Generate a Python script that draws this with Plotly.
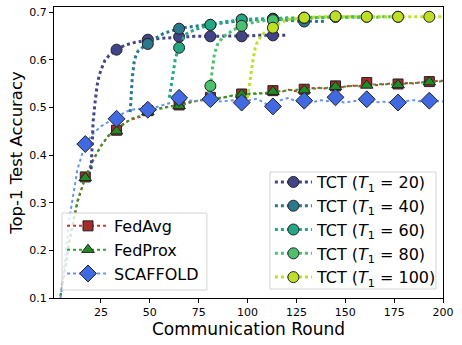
import plotly.graph_objects as go

# rounds for the baselines (markers every 16 rounds, starting at round 17)
base_rounds = list(range(1, 198, 4)) + [200]

fedavg = [0.03, 0.12, 0.22, 0.30, 0.354, 0.39, 0.42, 0.44, 0.452, 0.468,
          0.475, 0.48, 0.493, 0.495, 0.50, 0.503, 0.505, 0.51, 0.512, 0.515,
          0.521, 0.518, 0.522, 0.525, 0.528, 0.527, 0.53, 0.529, 0.535, 0.532,
          0.537, 0.534, 0.538, 0.54, 0.541, 0.539, 0.545, 0.542, 0.546, 0.544,
          0.552, 0.546, 0.548, 0.55, 0.549, 0.551, 0.55, 0.553, 0.554, 0.555, 0.556]
fedprox = [0.03, 0.12, 0.225, 0.305, 0.352, 0.388, 0.418, 0.442, 0.45, 0.466,
           0.477, 0.482, 0.49, 0.496, 0.498, 0.502, 0.503, 0.508, 0.513, 0.516,
           0.52, 0.52, 0.521, 0.526, 0.527, 0.529, 0.528, 0.531, 0.533, 0.534,
           0.535, 0.537, 0.536, 0.539, 0.54, 0.541, 0.543, 0.543, 0.545, 0.546,
           0.546, 0.547, 0.549, 0.548, 0.547, 0.55, 0.551, 0.552, 0.553, 0.554, 0.555]
scaffold = [0.0, 0.12, 0.27, 0.37, 0.423, 0.445, 0.46, 0.47, 0.476, 0.49,
            0.495, 0.497, 0.495, 0.50, 0.505, 0.51, 0.52, 0.515, 0.513, 0.515,
            0.517, 0.512, 0.513, 0.515, 0.51, 0.515, 0.518, 0.508, 0.502, 0.515,
            0.52, 0.512, 0.514, 0.51, 0.515, 0.513, 0.521, 0.51, 0.512, 0.515,
            0.517, 0.51, 0.512, 0.51, 0.51, 0.513, 0.515, 0.512, 0.514, 0.513, 0.512]

# TCT runs (second stage starts at T1)
tct20_rounds = [20, 21, 22, 23, 24, 25, 27, 29, 31, 33, 37, 41, 45, 49, 53, 57, 61,
                65, 69, 73, 77, 81, 85, 89, 93, 97, 101, 105, 109, 113, 117, 120]
tct20 = [0.37, 0.47, 0.51, 0.545, 0.565, 0.578, 0.598, 0.608, 0.615, 0.621,
         0.63, 0.635, 0.638, 0.642, 0.644, 0.645, 0.646, 0.648, 0.648, 0.649,
         0.649, 0.649, 0.65, 0.65, 0.65, 0.649, 0.65, 0.651, 0.651, 0.651, 0.651, 0.651]

tct40_rounds = [40, 41, 42, 43, 44, 45, 47, 49, 53, 57, 61, 65, 69, 73, 77, 81, 85,
                89, 93, 97, 101, 105, 109, 113, 117, 121, 125, 129, 133, 137, 140]
tct40 = [0.49, 0.56, 0.595, 0.61, 0.618, 0.622, 0.628, 0.633, 0.645, 0.655,
         0.66, 0.665, 0.668, 0.67, 0.672, 0.673, 0.676, 0.678, 0.68, 0.684,
         0.683, 0.684, 0.685, 0.686, 0.684, 0.683, 0.682, 0.68, 0.681, 0.68, 0.681]

tct60_rounds = [60, 61, 62, 63, 64, 65, 67, 69, 73, 77, 81, 85, 89, 93, 97, 101, 105,
                109, 113, 117, 121, 125, 129, 133, 137, 141, 145, 149, 153, 157, 160]
tct60 = [0.52, 0.55, 0.58, 0.60, 0.615, 0.625, 0.645, 0.655, 0.663, 0.668,
         0.673, 0.677, 0.68, 0.682, 0.684, 0.685, 0.686, 0.686, 0.685, 0.687,
         0.688, 0.687, 0.688, 0.689, 0.688, 0.689, 0.69, 0.689, 0.69, 0.689, 0.69]

tct80_rounds = [80, 81, 82, 83, 84, 85, 87, 89, 93, 97, 101, 105, 109, 113, 117, 121,
                125, 129, 133, 137, 141, 145, 149, 153, 157, 161, 165, 169, 173, 177, 180]
tct80 = [0.53, 0.545, 0.58, 0.61, 0.625, 0.635, 0.645, 0.652, 0.663, 0.671,
         0.676, 0.68, 0.682, 0.683, 0.685, 0.686, 0.687, 0.688, 0.688, 0.689,
         0.689, 0.69, 0.689, 0.69, 0.69, 0.69, 0.689, 0.69, 0.69, 0.69, 0.69]

tct100_rounds = [100, 101, 102, 103, 104, 105, 107, 109, 113, 117, 121, 125, 129, 133,
                 137, 141, 145, 149, 153, 157, 161, 165, 169, 173, 177, 181, 185, 189,
                 193, 197, 200]
tct100 = [0.52, 0.55, 0.585, 0.605, 0.625, 0.637, 0.65, 0.658, 0.667, 0.678,
          0.684, 0.686, 0.688, 0.689, 0.69, 0.69, 0.691, 0.69, 0.69, 0.691,
          0.69, 0.69, 0.691, 0.69, 0.69, 0.691, 0.69, 0.69, 0.69, 0.69, 0.69]

FONT = "DejaVu Sans"

fig = go.Figure()


def add_series(x, y, name, line_color, marker_color, symbol, msize, lwidth, legend):
    fig.add_trace(go.Scatter(x=x, y=y, mode="lines", showlegend=False,
                             line=dict(color=line_color, width=lwidth, dash="dot")))
    mx = [r for r in x if (r - 1) % 16 == 0 and r > 1]
    my = [v for r, v in zip(x, y) if (r - 1) % 16 == 0 and r > 1]
    mk = dict(color=marker_color, symbol=symbol, size=msize,
              line=dict(color="#222222", width=1))
    fig.add_trace(go.Scatter(x=mx, y=my, mode="markers", showlegend=False, marker=mk))
    # legend entry
    fig.add_trace(go.Scatter(x=[None], y=[None], mode="lines+markers", name=name,
                             legend=legend, marker=mk,
                             line=dict(color=line_color, width=lwidth, dash="dot")))


add_series(base_rounds, fedavg, "FedAvg", "#d0312d", "#a52a2a", "square", 10, 2, "legend")
add_series(base_rounds, fedprox, "FedProx", "#2ca02c", "#228b22", "triangle-up", 11, 2, "legend")
add_series(base_rounds, scaffold, "SCAFFOLD", "#6495ed", "#4169e1", "diamond", 13, 2, "legend")

tct_colors = ["#414487", "#2a788e", "#22a884", "#4ac16d", "#bddf26"]
tct_data = [(tct20_rounds, tct20, 20), (tct40_rounds, tct40, 40), (tct60_rounds, tct60, 60),
            (tct80_rounds, tct80, 80), (tct100_rounds, tct100, 100)]
for (xr, yv, t1), c in zip(tct_data, tct_colors):
    add_series(xr, yv, f"TCT (<i>T</i><sub>1</sub> = {t1})", c, c, "circle", 11, 3, "legend2")

axis_common = dict(showline=True, linecolor="black", linewidth=1, mirror=True,
                   ticks="outside", ticklen=4, tickcolor="black", showgrid=False,
                   zeroline=False, tickfont=dict(family=FONT, size=11, color="black"))

# legend frames (matplotlib-like, semi-transparent white)
for x0, x1, y0, y1 in [(0.0206, 0.393, 0.0275, 0.292), (0.555, 0.982, 0.031, 0.433)]:
    fig.add_shape(type="rect", xref="paper", yref="paper", x0=x0, x1=x1, y0=y0, y1=y1,
                  fillcolor="rgba(255,255,255,0.8)", line=dict(color="#d4d4d4", width=1),
                  layer="above")

fig.update_layout(
    width=462, height=345,
    margin=dict(l=54, r=19, t=7, b=47),
    paper_bgcolor="white", plot_bgcolor="white",
    font=dict(family=FONT, color="black"),
    xaxis=dict(range=[1, 200], tickvals=[25, 50, 75, 100, 125, 150, 175, 200],
               title=dict(text="Communication Round", font=dict(size=17), standoff=4),
               **axis_common),
    yaxis=dict(range=[0.1, 0.7105], tickvals=[0.1, 0.2, 0.3, 0.4, 0.5, 0.6, 0.7],
               tickformat=".1f",
               title=dict(text="Top-1 Test Accuracy", font=dict(size=16.5), standoff=2),
               **axis_common),
    legend=dict(x=0.0206, y=0.306, xanchor="left", yanchor="top", itemwidth=42,
                bgcolor="rgba(0,0,0,0)", borderwidth=0,
                font=dict(family=FONT, size=16)),
    legend2=dict(x=0.555, y=0.457, xanchor="left", yanchor="top", itemwidth=37,
                 bgcolor="rgba(0,0,0,0)", borderwidth=0,
                 font=dict(family=FONT, size=16)),
)

fig.write_html("out.html", config={"displayModeBar": False},
               post_script="document.body.style.margin='0px';")
